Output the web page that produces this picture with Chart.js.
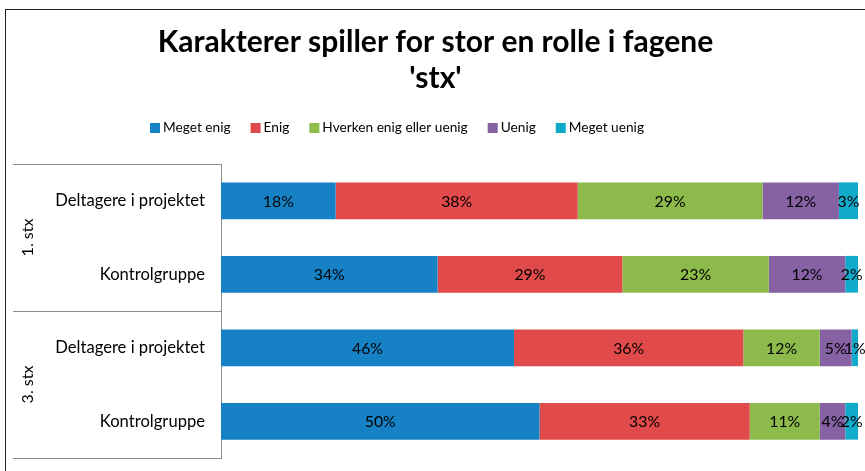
<!DOCTYPE html>
<html>
<head>
<meta charset="utf-8">
<script src="https://cdn.jsdelivr.net/npm/chart.js@4.4.1/dist/chart.umd.min.js"></script>
<style>
  html, body { margin: 0; padding: 0; background: #fff; overflow: hidden; }
  #wrap { width: 865px; height: 471px; }
</style>
</head>
<body>
<div id="wrap"><canvas id="myChart" width="865" height="471"></canvas></div>
<script>
// data
var categories = ["Deltagere i projektet", "Kontrolgruppe", "Deltagere i projektet", "Kontrolgruppe"];
var groups = ["1. stx", "3. stx"];
var groupOf = [0, 0, 1, 1];
var seriesNames = ["Meget enig", "Enig", "Hverken enig eller uenig", "Uenig", "Meget uenig"];
var megetEnig = [18, 34, 46, 50];
var enig = [38, 29, 36, 33];
var hverken = [29, 23, 12, 11];
var uenig = [12, 12, 5, 4];
var megetUenig = [3, 2, 1, 2];
var barColors = ["#1681c5", "#e04a4a", "#8cbb4b", "#8661a4", "#10aaca"];

var allSeries = [megetEnig, enig, hverken, uenig, megetUenig];

var FONT = "Lato, 'DejaVu Sans', sans-serif";
Chart.defaults.font.family = FONT;
Chart.defaults.color = "#000";

// frame, group column and separator lines
var groupAxisPlugin = {
    id: 'groupAxis',
    beforeDraw: function (chart) {
        var ctx = chart.ctx;
        ctx.save();
        ctx.strokeStyle = "#222";
        ctx.lineWidth = 1;
        ctx.strokeRect(5.5, 9.5, 1000, 1000);
        ctx.restore();
    },
    afterDraw: function (chart) {
        var ctx = chart.ctx;
        var yScale = chart.scales.y;
        var step = yScale.getPixelForValue(1) - yScale.getPixelForValue(0);
        var left = 13;
        var right = chart.chartArea.left;
        ctx.save();
        ctx.strokeStyle = "#8c8c8c";
        ctx.lineWidth = 1;
        ctx.fillStyle = "#000";
        ctx.font = "16px " + FONT;
        ctx.textAlign = "center";
        ctx.textBaseline = "middle";
        for (var g = 0; g < groups.length; g++) {
            var first = groupOf.indexOf(g);
            var last = groupOf.lastIndexOf(g);
            var top = yScale.getPixelForValue(first) - step / 2;
            var bottom = yScale.getPixelForValue(last) + step / 2;
            ctx.beginPath();
            ctx.moveTo(left, Math.round(top) + 0.5);
            ctx.lineTo(right, Math.round(top) + 0.5);
            ctx.moveTo(left, Math.round(bottom) + 0.5);
            ctx.lineTo(right, Math.round(bottom) + 0.5);
            ctx.stroke();
            ctx.save();
            ctx.translate(28, (top + bottom) / 2);
            ctx.rotate(-Math.PI / 2);
            ctx.fillText(groups[g], 0, 0);
            ctx.restore();
        }
        ctx.restore();
    }
};

// compact legend row like the original (small gap between box and text)
var legendRowPlugin = {
    id: 'legendRow',
    afterDraw: function (chart) {
        var ctx = chart.ctx;
        var x = 150, y = 128;
        ctx.save();
        ctx.font = "13.7px " + FONT;
        ctx.textBaseline = "middle";
        ctx.textAlign = "left";
        chart.data.datasets.forEach(function (ds) {
            ctx.fillStyle = ds.backgroundColor;
            ctx.fillRect(x, y - 5, 10, 10);
            ctx.fillStyle = "#000";
            ctx.fillText(ds.label, x + 13, y);
            x += 13 + ctx.measureText(ds.label).width + 20;
        });
        ctx.restore();
    }
};

// percentage labels in the middle of each segment
var barLabelPlugin = {
    id: 'barLabels',
    afterDatasetsDraw: function (chart) {
        var ctx = chart.ctx;
        ctx.save();
        ctx.fillStyle = "#000";
        ctx.font = "15.8px " + FONT;
        ctx.textAlign = "center";
        ctx.textBaseline = "middle";
        chart.data.datasets.forEach(function (ds, i) {
            var meta = chart.getDatasetMeta(i);
            meta.data.forEach(function (bar, j) {
                var p = bar.getCenterPoint();
                ctx.fillText(ds.data[j] + "%", p.x, p.y + 1);
            });
        });
        ctx.restore();
    }
};

new Chart("myChart", {
    type: "bar",
    data: {
        labels: categories,
        datasets: allSeries.map(function (vals, i) {
            return {
                label: seriesNames[i],
                data: vals,
                backgroundColor: barColors[i],
                borderWidth: 0,
                categoryPercentage: 1,
                barPercentage: 0.5
            };
        })
    },
    options: {
        indexAxis: 'y',
        responsive: false,
        animation: false,
        layout: { padding: { left: 13, right: 7, top: 0, bottom: 13 } },
        scales: {
            x: {
                stacked: true,
                min: 0,
                max: 100,
                display: false
            },
            y: {
                stacked: true,
                grid: { display: false, drawTicks: false },
                border: { display: true, color: "#8c8c8c" },
                ticks: { padding: 16, font: { size: 16.6 }, color: "#000" },
                afterFit: function (scale) {
                    scale.width = 208;
                    scale.paddingTop = 0;
                    scale.paddingBottom = 0;
                }
            }
        },
        plugins: {
            title: {
                display: true,
                text: ["Karakterer spiller for stor en rolle i fagene", "'stx'"],
                font: { size: 30, weight: 'bold' },
                lineHeight: 1.17,
                color: "#000",
                padding: { top: 24, bottom: 68 }
            },
            legend: { display: false },
            tooltip: { enabled: false }
        }
    },
    plugins: [groupAxisPlugin, legendRowPlugin, barLabelPlugin]
});
</script>
</body>
</html>
